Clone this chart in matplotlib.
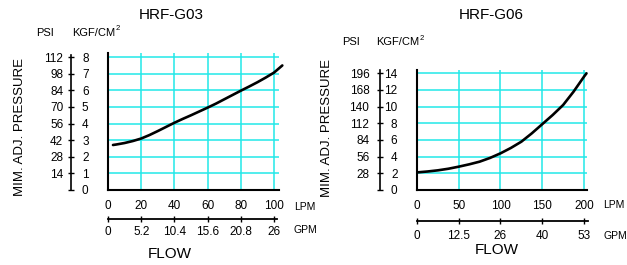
import matplotlib.pyplot as plt

plt.rcParams['font.family'] = ['Liberation Sans', 'DejaVu Sans']

W, H = 627, 265

# HRF-G03 data
g03_lpm = [3, 5, 10, 15, 20, 25, 30, 35, 40, 45, 50, 55, 60, 65, 70, 75, 80,
           85, 90, 95, 100, 105]
g03_kgf = [2.71, 2.74, 2.83, 2.95, 3.1, 3.31, 3.55, 3.8, 4.05, 4.28, 4.5, 4.73,
           4.96, 5.2, 5.46, 5.72, 5.98, 6.23, 6.49, 6.77, 7.07, 7.5]
g03_lpm_ticks = [0, 20, 40, 60, 80, 100]
g03_gpm_labels = ['0', '5.2', '10.4', '15.6', '20.8', '26']
g03_kgf_ticks = [0, 1, 2, 3, 4, 5, 6, 7, 8]
g03_psi_labels = ['', '14', '28', '42', '56', '70', '84', '98', '112']

# HRF-G06 data
g06_lpm = [1, 12.5, 25, 37.5, 50, 62.5, 75, 87.5, 100, 112.5, 125, 137.5, 150,
           162.5, 175, 187.5, 200, 203]
g06_kgf = [2.12, 2.22, 2.36, 2.55, 2.8, 3.08, 3.4, 3.85, 4.4, 5.05, 5.8, 6.8,
           7.9, 9.0, 10.2, 11.8, 13.6, 14.0]
g06_lpm_ticks = [0, 50, 100, 150, 200]
g06_gpm_labels = ['0', '12.5', '26', '40', '53']
g06_kgf_ticks = [0, 2, 4, 6, 8, 10, 12, 14]
g06_psi_labels = ['', '28', '56', '84', '112', '140', '168', '196']

GRID = '#22E8E8'
TICK_FS = 8.5


def box(x0, y0, x1, y1):
    return [x0 / W, 1 - y1 / H, (x1 - x0) / W, (y1 - y0) / H]


def chart(fig, lpm, kgf, lpm_ticks, gpm_labels, kgf_ticks, psi_labels, title, g):
    x0, y0, x1, y1 = g['main']
    # main plot with grid
    ax = fig.add_axes(box(x0, y0, x1, y1))
    ax.set_xlim(0, g['xmax'])
    ax.set_ylim(0, g['ymax'])
    ax.plot(lpm, kgf, color='black', lw=1.9, clip_on=False, solid_capstyle='round')
    ax.set_xticks(lpm_ticks)
    ax.set_yticks(kgf_ticks)
    ax.set_yticklabels([])
    ax.grid(True, color=GRID, lw=1.1)
    ax.set_axisbelow(True)
    ax.tick_params(length=0, labelsize=TICK_FS, pad=g['lpm_pad'])
    for s in ['top', 'right']:
        ax.spines[s].set_visible(False)
    for s in ['left', 'bottom']:
        ax.spines[s].set_linewidth(1.5)

    # pressure scale: psi on the left, kgf/cm2 on the right
    ppu_y = (y1 - y0) / g['ymax']
    yx = g['yax_x']
    ya = fig.add_axes(box(yx, y0, yx + 0.5, y1))
    ya.set_ylim(0, g['ymax'])
    ya.set_xticks([])
    for s in ['top', 'right', 'bottom']:
        ya.spines[s].set_visible(False)
    ya.spines['left'].set_linewidth(1.2)
    ya.spines['left'].set_bounds(0, (y1 - g['ytop']) / ppu_y)
    ya.set_yticks(kgf_ticks, psi_labels)
    ya.tick_params(axis='y', direction='inout', length=4.7, width=1.0,
                   labelsize=TICK_FS, pad=g['psi_pad'])
    ya.patch.set_visible(False)
    yb = ya.twinx()
    yb.set_ylim(0, g['ymax'])
    for s in yb.spines.values():
        s.set_visible(False)
    yb.set_yticks(kgf_ticks, [str(k) for k in kgf_ticks])
    yb.tick_params(axis='y', length=0, labelsize=TICK_FS, pad=g['kgf_pad'])
    for lbl in yb.get_yticklabels():
        lbl.set_horizontalalignment('right')

    # GPM scale under the LPM labels
    ppu_x = (x1 - x0) / g['xmax']
    gy = g['gpm_y']
    ga = fig.add_axes(box(x0, gy - 10, x1, gy))
    ga.set_xlim(0, g['xmax'])
    ga.set_yticks([])
    for s in ['top', 'right', 'left']:
        ga.spines[s].set_visible(False)
    ga.spines['bottom'].set_linewidth(1.3)
    ga.spines['bottom'].set_bounds(0, (g['gpm_end'] - x0) / ppu_x)
    ga.set_xticks(lpm_ticks, gpm_labels)
    ga.tick_params(axis='x', direction='inout', length=4.5, width=1.0,
                   labelsize=TICK_FS, pad=g['gpm_pad'])
    ga.patch.set_visible(False)

    def txt(p, s, **kw):
        return fig.text(p[0] / W, 1 - p[1] / H, s, **kw)

    txt(g['title'], title, fontsize=11, ha='center', va='center')
    txt(g['psi'], 'PSI', fontsize=8, ha='left', va='center')
    unit = txt(g['kgf'], 'KGF/CM', fontsize=8, ha='left', va='center')
    # small superscript right after the unit text
    ext = unit.get_window_extent(fig.canvas.get_renderer())
    txt((ext.x1 + 0.5, g['kgf'][1] - 4), '2', fontsize=5.5, ha='left', va='center')
    txt(g['ylabel'], 'MIM. ADJ. PRESSURE', fontsize=9.5, rotation=90,
        ha='center', va='center')
    txt(g['flow'], 'FLOW', fontsize=11, ha='center', va='center')
    txt(g['lpm_word'], 'LPM', fontsize=7.5, ha='left', va='center')
    txt(g['gpm_word'], 'GPM', fontsize=7.5, ha='left', va='center')


fig = plt.figure(figsize=(W / 100, H / 100), dpi=100)

left = dict(main=(108, 53, 279, 190), xmax=103, ymax=8.25, yax_x=70.7, ytop=55,
            gpm_y=219, gpm_end=277, title=(171, 15), psi=(36, 33), kgf=(72, 33),
            ylabel=(20, 127), flow=(170, 254), lpm_word=(294, 207),
            gpm_word=(294, 230), lpm_pad=7.5, psi_pad=3.0, kgf_pad=12.5, gpm_pad=3)
right = dict(main=(417, 70, 587, 190), xmax=203.6, ymax=14.4, yax_x=380, ytop=70,
             gpm_y=221, gpm_end=588, title=(491, 15), psi=(342, 42), kgf=(376, 42),
             ylabel=(327, 128), flow=(497, 250), lpm_word=(603, 205),
             gpm_word=(603, 236), lpm_pad=7.5, psi_pad=5.3, kgf_pad=12.2, gpm_pad=4)

chart(fig, g03_lpm, g03_kgf, g03_lpm_ticks, g03_gpm_labels, g03_kgf_ticks,
      g03_psi_labels, 'HRF-G03', left)
chart(fig, g06_lpm, g06_kgf, g06_lpm_ticks, g06_gpm_labels, g06_kgf_ticks,
      g06_psi_labels, 'HRF-G06', right)

plt.savefig('out.png', dpi=100)
